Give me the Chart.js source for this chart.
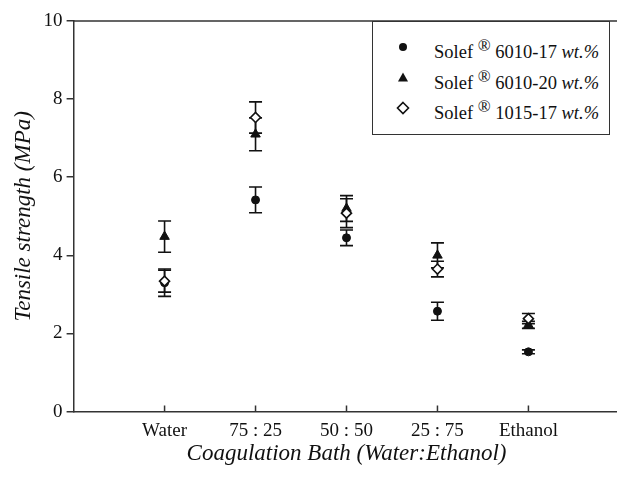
<!DOCTYPE html>
<html>
<head>
<meta charset="utf-8">
<script src="https://cdn.jsdelivr.net/npm/chart.js@4/dist/chart.umd.min.js"></script>
<style>
  html, body { margin: 0; padding: 0; background: #fff; }
  #wrap { position: relative; width: 617px; height: 480px; overflow: hidden; }
  #legend {
    position: absolute; left: 372px; top: 21px; width: 238px; height: 114px;
    border: 1.5px solid #333; background: #fff; box-sizing: border-box;
    font-family: "Liberation Serif", "Times New Roman", serif; font-size: 18.5px; color: #111;
  }
  .row { position: absolute; left: 0; width: 230px; height: 22px; line-height: 22px; white-space: nowrap; }
  .row svg { position: absolute; left: 21px; top: -3px; }
  .row .txt { position: absolute; left: 61px; top: 0; }
  .row sup { font-size: 17px; vertical-align: 7px; line-height: 0; }
</style>
</head>
<body>
<div id="wrap">
  <canvas id="c" width="626" height="480"></canvas>
  <div id="legend"></div>
</div>
<script>
const categories = ['Water', '75 : 25', '50 : 50', '25 : 75', 'Ethanol'];
const seriesNames = ['6010-17', '6010-20', '1015-17'];
const yTicks = [0, 2, 4, 6, 8, 10];

const s6010_17 = [3.30, 5.42, 4.45, 2.57, 1.53];
const s6010_17_err = [0.35, 0.33, 0.20, 0.23, 0.05];
const s6010_20 = [4.48, 7.10, 5.20, 4.00, 2.22];
const s6010_20_err = [0.40, 0.42, 0.33, 0.32, 0.09];
const s1015_17 = [3.34, 7.53, 5.08, 3.65, 2.38];
const s1015_17_err = [0.28, 0.40, 0.37, 0.20, 0.13];

const FONT = '"Liberation Serif", "Times New Roman", serif';
const INK = '#111';
const AXIS = '#333';

function pts(vals) { return vals.map((v, i) => ({ x: i + 1, y: v })); }

const datasets = [
  { label: seriesNames[0], data: pts(s6010_17), err: s6010_17_err, pointStyle: 'circle', pointRadius: 4,
    backgroundColor: INK, borderColor: INK, borderWidth: 1, order: 2, showLine: false },
  { label: seriesNames[1], data: pts(s6010_20), err: s6010_20_err, pointStyle: 'triangle', pointRadius: 5.5,
    backgroundColor: INK, borderColor: INK, borderWidth: 1, order: 1, showLine: false },
  { label: seriesNames[2], data: pts(s1015_17), err: s1015_17_err, pointStyle: 'rectRot', pointRadius: 5,
    backgroundColor: '#fff', borderColor: INK, borderWidth: 1.6, order: 0, showLine: false }
];

const errorBars = {
  id: 'errorBars',
  beforeDatasetsDraw(chart) {
    const ctx = chart.ctx, xs = chart.scales.x, ys = chart.scales.y;
    ctx.save();
    ctx.strokeStyle = INK; ctx.lineWidth = 1.6;
    chart.data.datasets.forEach(ds => {
      ds.data.forEach((p, i) => {
        const e = ds.err[i];
        const x = xs.getPixelForValue(p.x);
        const yt = ys.getPixelForValue(p.y + e), yb = ys.getPixelForValue(p.y - e);
        ctx.beginPath();
        ctx.moveTo(x, yt); ctx.lineTo(x, yb);
        ctx.moveTo(x - 6.5, yt); ctx.lineTo(x + 6.5, yt);
        ctx.moveTo(x - 6.5, yb); ctx.lineTo(x + 6.5, yb);
        ctx.stroke();
      });
    });
    ctx.restore();
  },
  afterDraw(chart) {
    const ctx = chart.ctx, a = chart.chartArea, xs = chart.scales.x;
    ctx.save();
    ctx.strokeStyle = AXIS; ctx.lineWidth = 1.5;
    ctx.beginPath();
    ctx.moveTo(a.left, a.top); ctx.lineTo(a.right, a.top);
    categories.forEach((c, i) => {
      const x = xs.getPixelForValue(i + 1);
      ctx.moveTo(x, a.bottom); ctx.lineTo(x, a.bottom - 6);
    });
    ctx.stroke();
    ctx.restore();
  }
};

new Chart(document.getElementById('c'), {
  type: 'scatter',
  data: { datasets },
  options: {
    responsive: false, animation: false, devicePixelRatio: 1,
    layout: { padding: { top: 21, right: 0, left: 7, bottom: 12 } },
    plugins: { legend: { display: false }, tooltip: { enabled: false } },
    scales: {
      x: {
        type: 'linear', min: 0, max: 6,
        afterBuildTicks: s => { s.ticks = [0, 1, 2, 3, 4, 5, 6].map(v => ({ value: v })); },
        ticks: { autoSkip: false, maxRotation: 0, padding: 0, color: INK,
          font: { family: FONT, size: 19 },
          callback: v => categories[v - 1] || '' },
        grid: { display: false },
        border: { display: true, color: AXIS, width: 1.5 },
        title: { display: true, text: 'Coagulation Bath (Water:Ethanol)', color: INK,
          font: { family: FONT, size: 23, style: 'italic' }, padding: { top: -2, bottom: 0 } }
      },
      y: {
        min: 0, max: 10,
        afterBuildTicks: s => { s.ticks = yTicks.map(v => ({ value: v })); },
        ticks: { color: INK, padding: 4, font: { family: FONT, size: 19 } },
        grid: { display: true, drawOnChartArea: false, drawTicks: true, tickLength: 7, color: AXIS, lineWidth: 1.5 },
        border: { display: true, color: AXIS, width: 1.5 },
        title: { display: true, text: 'Tensile strength (MPa)', color: INK,
          font: { family: FONT, size: 23, style: 'italic' }, padding: { top: 3, bottom: 2 } }
      }
    }
  },
  plugins: [errorBars]
});

// HTML legend (real text with superscript and italics)
const legend = document.getElementById('legend');
const markerSvg = [
  '<svg width="18" height="18"><circle cx="9" cy="9" r="4" fill="#111"/></svg>',
  '<svg width="18" height="18"><polygon points="9,3.5 14,12.5 4,12.5" fill="#111"/></svg>',
  '<svg width="18" height="18"><polygon points="9,3.5 14.5,9 9,14.5 3.5,9" fill="#fff" stroke="#111" stroke-width="1.6"/></svg>'
];
const rowTops = [19, 50, 80];
seriesNames.forEach((n, i) => {
  const r = document.createElement('div');
  r.className = 'row';
  r.style.top = rowTops[i] + 'px';
  r.innerHTML = markerSvg[i] + '<span class="txt">Solef <sup>®</sup> ' + n + ' <i>wt.%</i></span>';
  legend.appendChild(r);
});
</script>
</body>
</html>
